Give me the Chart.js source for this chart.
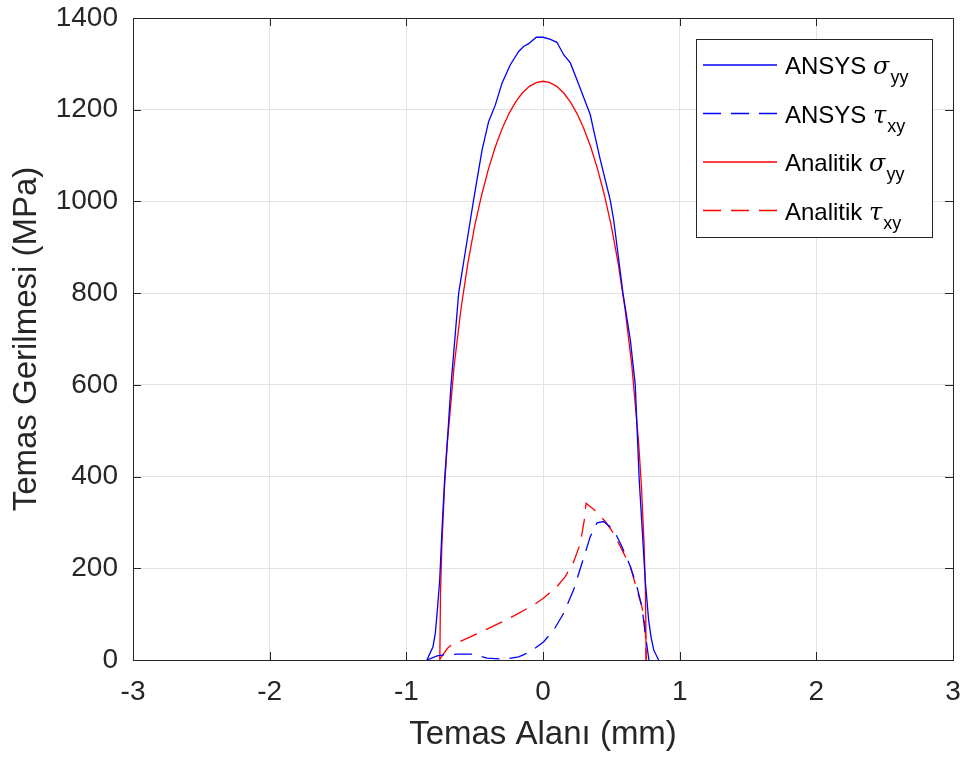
<!DOCTYPE html>
<html>
<head>
<meta charset="utf-8">
<title>Temas Gerilmesi</title>
<script src="https://cdn.jsdelivr.net/npm/chart.js@4.4.1/dist/chart.umd.min.js"></script>
<style>
  html, body { margin: 0; padding: 0; background: #fff; }
  canvas { display: block; }
</style>
</head>
<body>
<canvas id="grafik" width="965" height="758"></canvas>
<script>
// degerler (x: mm, y: MPa)
const ansysSigmaX = [-0.849, -0.805, -0.788, -0.771, -0.756, -0.739, -0.72, -0.695, -0.673, -0.617, -0.531, -0.508, -0.446, -0.398, -0.349, -0.300, -0.239, -0.178, -0.142, -0.105, -0.049, 0.0, 0.05, 0.102, 0.151, 0.2, 0.249, 0.346, 0.370, 0.419, 0.492, 0.517, 0.585, 0.639, 0.675, 0.704, 0.748, 0.773, 0.79, 0.81, 0.846];
const ansysSigmaY = [0, 29, 58, 116, 174, 284, 393, 500, 600, 800, 960, 1003, 1112, 1174, 1210, 1258, 1298, 1327, 1338, 1344, 1358, 1358, 1354, 1347, 1320, 1302, 1265, 1189, 1156, 1091, 1003, 960, 800, 698, 600, 393, 174, 87, 51, 22, 0];

const ansysTauX = [-0.849, -0.775, -0.727, -0.617, -0.519, -0.41, -0.276, -0.178, -0.093, 0.005, 0.078, 0.151, 0.224, 0.285, 0.346, 0.395, 0.443, 0.517, 0.578, 0.639, 0.687, 0.724, 0.748, 0.775];
const ansysTauY = [0, 9, 11, 13, 13, 4, 2, 7, 18, 40, 65, 102, 153, 211, 269, 299, 302, 284, 247, 204, 160, 116, 58, 0];

const analitikSigmaX = [-0.755, -0.75, -0.74, -0.72, -0.70, -0.65, -0.60, -0.55, -0.50, -0.45, -0.40, -0.35, -0.30, -0.25, -0.20, -0.15, -0.10, -0.05, 0, 0.05, 0.10, 0.15, 0.20, 0.25, 0.30, 0.35, 0.40, 0.45, 0.50, 0.55, 0.60, 0.65, 0.70, 0.72, 0.74, 0.75, 0.755];
const analitikSigmaY = [0, 145, 250, 380, 473, 642, 766, 865, 946, 1013, 1070, 1118, 1158, 1191, 1217, 1237, 1251, 1259, 1262, 1259, 1251, 1237, 1217, 1191, 1158, 1118, 1070, 1013, 946, 865, 766, 642, 473, 380, 250, 145, 0];

const analitikTauX = [-0.755, -0.70, -0.678, -0.556, -0.398, -0.30, -0.203, -0.069, 0.005, 0.102, 0.163, 0.224, 0.273, 0.302, 0.315, 0.370, 0.456, 0.517, 0.59, 0.639, 0.687, 0.724, 0.748, 0.755];
const analitikTauY = [2, 25, 31, 47, 69, 83, 98, 120, 135, 160, 182, 214, 254, 305, 342, 329, 302, 276, 233, 204, 153, 116, 73, 0];

const xTicks = [-3, -2, -1, 0, 1, 2, 3];
const yTicks = [0, 200, 400, 600, 800, 1000, 1200, 1400];

const legendNames = ['ANSYS', 'ANSYS', 'Analitik', 'Analitik'];
const legendSymbols = ['σ', 'τ', 'σ', 'τ'];
const legendSubs = ['yy', 'xy', 'yy', 'xy'];

const FONT = '"Liberation Sans", Arial, Helvetica, sans-serif';
const AXIS_COLOR = '#262626';
const DASH = [18, 10];

function pairs(xs, ys) {
  return xs.map((x, i) => ({ x: x, y: ys[i] }));
}

// MATLAB tarzi kutu ve iceri bakan tik cizgileri
const kutuPlugin = {
  id: 'kutu',
  afterDraw(chart) {
    const { ctx, chartArea: a, scales } = chart;
    ctx.save();
    ctx.strokeStyle = AXIS_COLOR;
    ctx.lineWidth = 1;
    ctx.strokeRect(Math.round(a.left) + 0.5, Math.round(a.top) + 0.5, Math.round(a.right - a.left), Math.round(a.bottom - a.top));
    const tl = 8;
    ctx.beginPath();
    xTicks.forEach(v => {
      const px = Math.round(scales.x.getPixelForValue(v)) + 0.5;
      ctx.moveTo(px, a.bottom); ctx.lineTo(px, a.bottom - tl);
      ctx.moveTo(px, a.top); ctx.lineTo(px, a.top + tl);
    });
    yTicks.forEach(v => {
      const py = Math.round(scales.y.getPixelForValue(v)) + 0.5;
      ctx.moveTo(a.left, py); ctx.lineTo(a.left + tl, py);
      ctx.moveTo(a.right, py); ctx.lineTo(a.right - tl, py);
    });
    ctx.stroke();
    ctx.restore();
  }
};

// alt indisli lejant
const lejantPlugin = {
  id: 'lejant',
  afterDraw(chart) {
    const ctx = chart.ctx;
    const box = { x: 696, y: 39, w: 236, h: 198 };
    ctx.save();
    ctx.fillStyle = '#fff';
    ctx.fillRect(box.x, box.y, box.w, box.h);
    ctx.strokeStyle = AXIS_COLOR;
    ctx.lineWidth = 1;
    ctx.strokeRect(box.x + 0.5, box.y + 0.5, box.w, box.h);
    chart.data.datasets.forEach((ds, i) => {
      const cy = 65 + i * 48.5;
      ctx.strokeStyle = ds.borderColor;
      ctx.lineWidth = ds.borderWidth;
      ctx.setLineDash(ds.borderDash || []);
      ctx.beginPath();
      ctx.moveTo(703, cy); ctx.lineTo(777, cy);
      ctx.stroke();
      ctx.setLineDash([]);
      ctx.fillStyle = '#000';
      ctx.textBaseline = 'alphabetic';
      ctx.textAlign = 'left';
      const base = cy + 9;
      let tx = 785;
      ctx.font = '24px ' + FONT;
      const main = legendNames[i] + ' ';
      ctx.fillText(main, tx, base);
      tx += ctx.measureText(main).width;
      ctx.font = 'italic 24px "DejaVu Serif", "Liberation Serif", serif';
      ctx.fillText(legendSymbols[i], tx, base);
      tx += ctx.measureText(legendSymbols[i]).width + 1;
      ctx.font = '18px ' + FONT;
      ctx.fillText(legendSubs[i], tx, base + 9);
    });
    ctx.restore();
  }
};

const ctx = document.getElementById('grafik').getContext('2d');
new Chart(ctx, {
  type: 'line',
  data: {
    datasets: [
      { label: 'ANSYS σyy', data: pairs(ansysSigmaX, ansysSigmaY), borderColor: '#0000ff', borderWidth: 1.3 },
      { label: 'ANSYS τxy', data: pairs(ansysTauX, ansysTauY), borderColor: '#0000ff', borderWidth: 1.3, borderDash: DASH },
      { label: 'Analitik σyy', data: pairs(analitikSigmaX, analitikSigmaY), borderColor: '#ff0000', borderWidth: 1.3 },
      { label: 'Analitik τxy', data: pairs(analitikTauX, analitikTauY), borderColor: '#ff0000', borderWidth: 1.3, borderDash: DASH }
    ]
  },
  options: {
    responsive: false,
    animation: false,
    devicePixelRatio: 1,
    elements: {
      point: { radius: 0, hoverRadius: 0 },
      line: { tension: 0, fill: false }
    },
    layout: { padding: { left: 0, right: 12, top: 18, bottom: 0 } },
    plugins: {
      legend: { display: false },
      tooltip: { enabled: false }
    },
    scales: {
      x: {
        type: 'linear',
        min: -3,
        max: 3,
        afterBuildTicks: s => { s.ticks = xTicks.map(v => ({ value: v })); },
        afterFit: s => { s.height = 98; s.paddingLeft = 0; s.paddingRight = 0; },
        ticks: { font: { size: 28, family: FONT }, color: AXIS_COLOR, padding: 15, maxRotation: 0, callback: v => String(v) },
        grid: { color: '#e3e3e3', drawTicks: false },
        border: { display: false },
        title: { display: true, text: 'Temas Alanı (mm)', font: { size: 33, family: FONT }, color: AXIS_COLOR, padding: { top: 0, bottom: 3 } }
      },
      y: {
        type: 'linear',
        min: 0,
        max: 1400,
        afterBuildTicks: s => { s.ticks = yTicks.map(v => ({ value: v })); },
        afterFit: s => { s.width = 133; s.paddingTop = 0; s.paddingBottom = 0; },
        ticks: { font: { size: 28, family: FONT }, color: AXIS_COLOR, padding: 15, callback: v => String(v) },
        grid: { color: '#e3e3e3', drawTicks: false },
        border: { display: false },
        title: { display: true, text: 'Temas Gerilmesi (MPa)', font: { size: 33, family: FONT }, color: AXIS_COLOR, padding: { top: 7, bottom: 0 } }
      }
    }
  },
  plugins: [kutuPlugin, lejantPlugin]
});
</script>
</body>
</html>
